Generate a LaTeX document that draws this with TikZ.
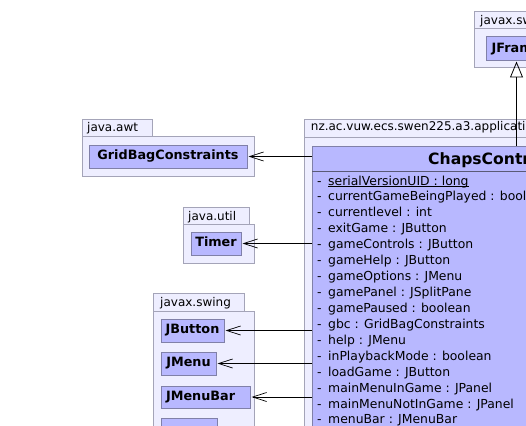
\documentclass[tikz,border=0pt]{standalone}
\usepackage{fontspec}
\setmainfont{DejaVu Sans}
\usetikzlibrary{arrows.meta}
\definecolor{pkgfill}{HTML}{EEEEFF}
\definecolor{pkgdraw}{HTML}{A4A4B8}
\definecolor{clsfill}{HTML}{B8B8FF}
\definecolor{clsdraw}{HTML}{8080A8}
\newcommand\myul[1]{\setbox0\hbox{#1}\rlap{\rule[-1.6pt]{\wd0}{0.8pt}}\box0}
\begin{document}
\begin{tikzpicture}[x=1pt,y=-1pt,
  pkgbox/.style={draw=pkgdraw, fill=pkgfill, line width=1pt},
  pkglabel/.style={anchor=base west, inner sep=0, font=\fontsize{12}{14}\selectfont},
  clsbox/.style={draw=clsdraw, fill=clsfill, line width=1pt, inner sep=0,
    text height=9.4pt, text depth=2.6pt, font=\bfseries\fontsize{12.8}{15}\selectfont},
  attr/.style={anchor=base west, inner sep=0, font=\fontsize{12.4}{15}\selectfont},
  depend/.style={-{Straight Barb[length=14pt,width=9pt,line width=0.7pt]}, line width=0.9pt, shorten >=1pt},
  inherit/.style={-{Triangle[open,length=16pt,width=13pt,line width=0.8pt]}, line width=0.9pt}
]
\useasboundingbox (0,0) rectangle (526,425);
\clip (0,0) rectangle (526,425);
\fill[white] (0,0) rectangle (526,425);

% package javax.swing (top)
\draw[pkgbox] (474,12) rectangle (566,29);
\draw[pkgbox] (474,29) rectangle (700,68);
\node[pkglabel] (lswingtop) at (480,24.5) {javax.swing};
\node[clsbox, minimum width=61pt, minimum height=24pt] (jframe) at (516.5,49) {JFrame};

% package java.awt
\draw[pkgbox] (82,119) rectangle (152,136);
\draw[pkgbox] (82,136) rectangle (254,176);
\node[pkglabel] (lawt) at (87,131) {java.awt};
\node[clsbox, minimum width=158pt, minimum height=23pt] (gbc) at (168,156.5) {GridBagConstraints};

% package java.util
\draw[pkgbox] (183,207) rectangle (249,224);
\draw[pkgbox] (183,224) rectangle (254,263);
\node[pkglabel] (lutil) at (188,220) {java.util};
\node[clsbox, minimum width=50pt, minimum height=23pt] (timer) at (216,243.5) {Timer};

% package javax.swing (left)
\draw[pkgbox] (153,293) rectangle (244,311);
\draw[pkgbox] (153,311) rectangle (254,600);
\node[pkglabel] (lswing) at (160,306) {javax.swing};
\node[clsbox, minimum width=63pt, minimum height=23pt] (jbutton) at (192.5,330.5) {JButton};
\node[clsbox, minimum width=55pt, minimum height=23pt] (jmenu) at (188.5,363.5) {JMenu};
\node[clsbox, minimum width=89pt, minimum height=22pt, text width=79pt, align=left] (jmenubar) at (205.5,397) {JMenuBar};
\node[clsbox, minimum width=56pt, minimum height=23pt] (jpanel) at (189,429.5) {};

% package nz.ac.vuw.ecs.swen225.a3.application
\draw[pkgbox] (304,119) rectangle (540,137);
\draw[pkgbox] (304,137) rectangle (900,900);
\node[pkglabel] (lapp) at (310.7,130.7) {nz.ac.vuw.ecs.swen225.a3.application};

% class ChapsController
\node[draw=clsdraw, fill=clsfill, line width=1pt, inner sep=0, anchor=north west,
  minimum width=377pt, minimum height=700pt] (cc) at (312,146) {};
\draw[draw=clsdraw!70!black, line width=1pt] (312,171) -- (689,171);
\node[anchor=base west, inner sep=0, font=\bfseries\fontsize{15.6}{19}\selectfont] (cctitle) at (428,164.3) {ChapsController};

\foreach \t [count=\i from 0] in {
  {\myul{serialVersionUID : long}},
  currentGameBeingPlayed : boolean,
  currentlevel : int,
  exitGame : JButton,
  gameControls : JButton,
  gameHelp : JButton,
  gameOptions : JMenu,
  gamePanel : JSplitPane,
  gamePaused : boolean,
  gbc : GridBagConstraints,
  help : JMenu,
  inPlaybackMode : boolean,
  loadGame : JButton,
  mainMenuInGame : JPanel,
  mainMenuNotInGame : JPanel,
  menuBar : JMenuBar}
{
  \node[attr] (dash\i) at (317,185+15.93*\i) {-};
  \node[attr] (attr\i) at (328,185+15.93*\i) {\t};
}

% connectors
\draw[inherit] (cc.north -| jframe.south) -- (jframe.south);
\draw[depend] (cc.west |- gbc.east) -- (gbc.east);
\draw[depend] (cc.west |- timer.east) -- (timer.east);
\draw[depend] (cc.west |- jbutton.east) -- (jbutton.east);
\draw[depend] (cc.west |- jmenu.east) -- (jmenu.east);
\draw[depend] (cc.west |- jmenubar.east) -- (jmenubar.east);
\end{tikzpicture}
\end{document}
